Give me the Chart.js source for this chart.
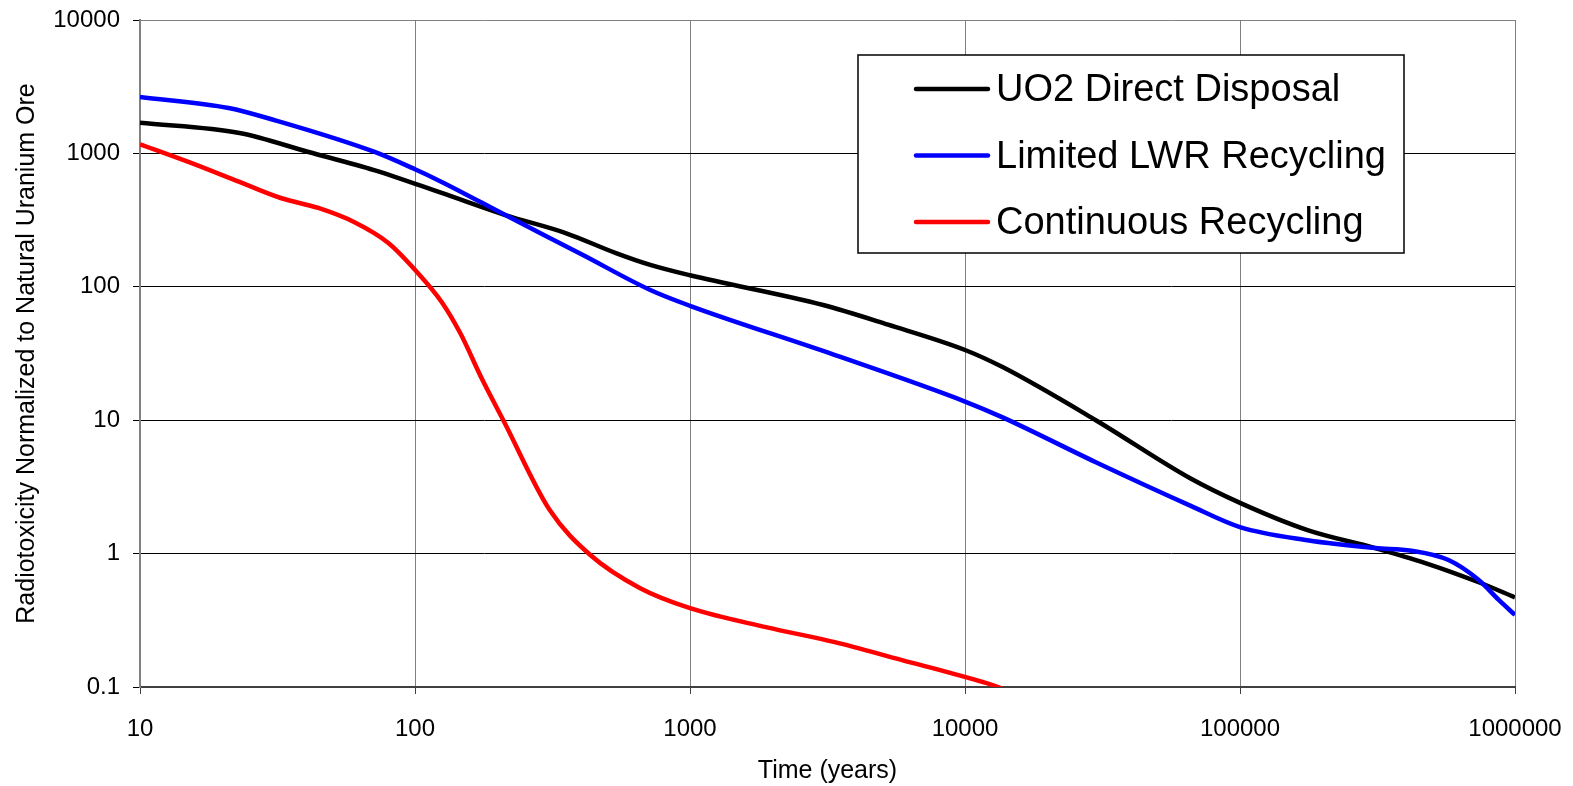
<!DOCTYPE html>
<html>
<head>
<meta charset="utf-8">
<script src="https://cdn.jsdelivr.net/npm/chart.js@4"></script>
<style>
  body { margin: 0; background: #fff; }
  #wrap { width: 1573px; height: 786px; position: relative; }
</style>
</head>
<body>
<div id="wrap"><canvas id="chart"></canvas></div>
<script>
// axis ticks (decades only)
const xTicks = [10, 100, 1000, 10000, 100000, 1000000];
const yTicks = [0.1, 1, 10, 100, 1000, 10000];

// UO2 direct disposal
const uo2Time = [10, 23, 41, 71, 125, 213, 353, 538, 717, 1000, 3050, 5250, 10000, 13700, 29900, 65900, 100000, 176000, 310000, 472000, 738000, 1000000];
const uo2Values = [1700, 1422, 1025, 750, 505, 345, 253, 179, 146, 122, 73, 52, 33.6, 25, 10, 3.67, 2.4, 1.5, 1.1, 0.85, 0.61, 0.47];

// limited LWR recycling
const lwrTime = [10, 21, 30.7, 71.3, 100, 125, 213, 408, 717, 1000, 3200, 10000, 13700, 29900, 65900, 100000, 176000, 310000, 420000, 573000, 738000, 873000, 1000000];
const lwrValues = [2650, 2190, 1780, 1025, 760, 611, 345, 173, 94.6, 72, 31.9, 13.8, 10.5, 4.84, 2.29, 1.58, 1.26, 1.1, 1.05, 0.895, 0.634, 0.449, 0.347];

// continuous recycling
const contTime = [10, 15, 23, 32.5, 44.5, 60, 80, 100, 125, 146, 176, 211, 309, 433, 659, 1000, 1905, 3360, 5900, 10300, 13200, 16000];
const contValues = [1170, 863, 611, 463, 390, 306, 213, 134, 77, 45, 20, 9.7, 2.12, 0.98, 0.55, 0.39, 0.28, 0.217, 0.159, 0.117, 0.1, 0.085];

const seriesNames = ["UO2 Direct Disposal", "Limited LWR Recycling", "Continuous Recycling"];
const seriesColors = ["#000000", "#0000FF", "#FF0000"];

function pts(t, v) {
  return t.map((x, i) => ({ x: x, y: v[i] }));
}

// legend box drawn inside the plot
const boxLegend = {
  id: "boxLegend",
  afterDraw(chart) {
    const ctx = chart.ctx;
    const bx = 858, by = 55, bw = 546, bh = 198;
    ctx.save();
    ctx.fillStyle = "#fff";
    ctx.fillRect(bx, by, bw, bh);
    ctx.strokeStyle = "#000";
    ctx.lineWidth = 1.5;
    ctx.strokeRect(bx, by, bw, bh);
    ctx.font = "38px 'Liberation Sans', Arial, sans-serif";
    ctx.textBaseline = "middle";
    chart.data.datasets.forEach((ds, i) => {
      const y = 89 + i * 66.5;
      ctx.strokeStyle = ds.borderColor;
      ctx.lineWidth = 4.5;
      ctx.lineCap = "round";
      ctx.beginPath();
      ctx.moveTo(916, y);
      ctx.lineTo(988, y);
      ctx.stroke();
      ctx.fillStyle = "#000";
      ctx.fillText(ds.label, 996, y + 2);
    });
    ctx.restore();
  }
};

const font = "'Liberation Sans', Arial, sans-serif";

new Chart(document.getElementById("chart"), {
  type: "line",
  data: {
    datasets: [
      { label: seriesNames[0], data: pts(uo2Time, uo2Values), borderColor: seriesColors[0], order: 1 },
      { label: seriesNames[1], data: pts(lwrTime, lwrValues), borderColor: seriesColors[1], order: 0 },
      { label: seriesNames[2], data: pts(contTime, contValues), borderColor: seriesColors[2], order: 2 }
    ].map(d => Object.assign(d, {
      borderWidth: 4.5,
      pointRadius: 0,
      fill: false,
      cubicInterpolationMode: "monotone"
    }))
  },
  options: {
    responsive: true,
    maintainAspectRatio: false,
    animation: false,
    layout: { padding: { top: 20, right: 58, left: 0, bottom: 0 } },
    plugins: { legend: { display: false }, tooltip: { enabled: false } },
    scales: {
      x: {
        type: "logarithmic",
        min: 10,
        max: 1000000,
        afterBuildTicks: s => { s.ticks = xTicks.map(v => ({ value: v })); },
        afterFit: s => { s.height = 99; s.paddingLeft = 0; s.paddingRight = 0; },
        ticks: {
          color: "#000",
          font: { family: font, size: 24 },
          padding: 21,
          maxRotation: 0,
          autoSkip: false,
          callback: v => String(v)
        },
        grid: { color: "#808080", lineWidth: 1, tickLength: 7, tickColor: "#404040" },
        border: { color: "#404040", width: 2 },
        title: {
          display: true,
          text: "Time (years)",
          color: "#000",
          font: { family: font, size: 25 },
          padding: { top: 0, bottom: 0 }
        }
      },
      y: {
        type: "logarithmic",
        min: 0.1,
        max: 10000,
        afterBuildTicks: s => { s.ticks = yTicks.map(v => ({ value: v })); },
        afterFit: s => { s.width = 140; s.paddingTop = 0; s.paddingBottom = 0; },
        ticks: {
          color: "#000",
          font: { family: font, size: 24 },
          padding: 13,
          autoSkip: false,
          callback: v => String(v)
        },
        grid: {
          color: c => (c.tick && c.tick.value === 10000 ? "#808080" : "#000"),
          lineWidth: 1,
          tickLength: 7,
          tickColor: "#000"
        },
        border: { color: "#808080", width: 2 },
        title: {
          display: true,
          text: "Radiotoxicity Normalized to Natural Uranium Ore",
          color: "#000",
          font: { family: font, size: 25 },
          padding: { top: 12, bottom: 0 }
        }
      }
    }
  },
  plugins: [boxLegend]
});
</script>
</body>
</html>
